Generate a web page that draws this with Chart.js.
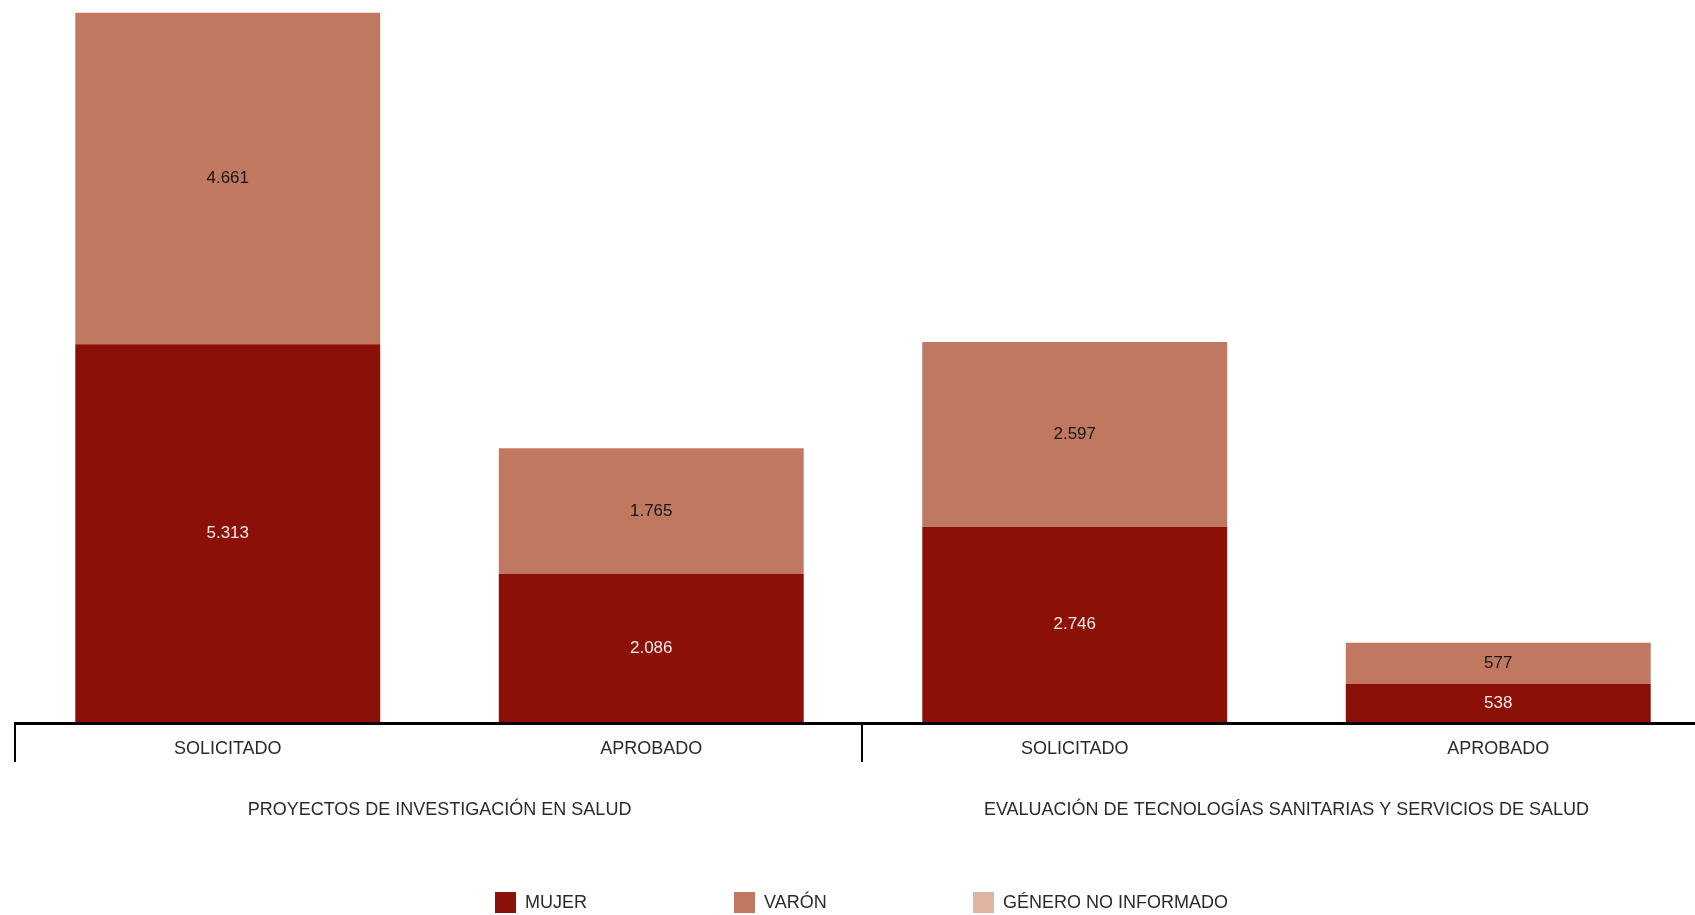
<!DOCTYPE html>
<html><head><meta charset="utf-8">
<script src="https://cdn.jsdelivr.net/npm/chart.js@4"></script>
<style>
html,body{margin:0;padding:0;background:#fff;overflow:hidden;width:1695px;height:915px;}
canvas{display:block;}
</style></head>
<body>
<canvas id="c" width="1712" height="915"></canvas>
<script>
const categories = ['SOLICITADO', 'APROBADO', 'SOLICITADO', 'APROBADO'];
const groups = ['PROYECTOS DE INVESTIGACIÓN EN SALUD', 'EVALUACIÓN DE TECNOLOGÍAS SANITARIAS Y SERVICIOS DE SALUD'];
const groupSizes = [2, 2];
const seriesNames = ['MUJER', 'VARÓN', 'GÉNERO NO INFORMADO'];
const mujer = [5313, 2086, 2746, 538];
const varon = [4661, 1765, 2597, 577];
const noInformado = [0, 0, 0, 0];
const seriesColors = ['#8b1007', '#c07860', '#dfb4a0'];
const labelColors = ['#f6e9e7', '#151515', '#151515'];

const FONT = '"Liberation Sans", Arial, sans-serif';
function fmt(v){ return String(v).replace(/\B(?=(\d{3})+(?!\d))/g, '.'); }

const overlay = {
  id: 'overlay',
  afterDatasetsDraw(chart){
    const ctx = chart.ctx;
    const area = chart.chartArea;
    const xs = chart.scales.x;
    ctx.save();
    // value labels
    ctx.font = '17px ' + FONT;
    ctx.textAlign = 'center';
    ctx.textBaseline = 'middle';
    chart.data.datasets.forEach((ds, di) => {
      const meta = chart.getDatasetMeta(di);
      meta.data.forEach((bar, i) => {
        const v = ds.data[i];
        if (!v) return;
        const yc = (bar.y + bar.base) / 2;
        ctx.fillStyle = labelColors[di];
        ctx.fillText(fmt(v), bar.x, yc);
      });
    });
    // baseline
    const step = xs.getPixelForValue(1) - xs.getPixelForValue(0);
    const left = xs.getPixelForValue(0) - step / 2;
    ctx.strokeStyle = '#000';
    ctx.lineWidth = 3;
    ctx.beginPath();
    ctx.moveTo(left - 1, area.bottom + 1.5);
    ctx.lineTo(area.right + 2, area.bottom + 1.5);
    ctx.stroke();
    // category labels
    ctx.fillStyle = '#2a2a2a';
    ctx.font = '18px ' + FONT;
    categories.forEach((c, i) => {
      ctx.fillText(c, xs.getPixelForValue(i), area.bottom + 27);
    });
    // group separators and labels
    ctx.lineWidth = 2;
    let start = 0;
    const sepX = [];
    groups.forEach((g, gi) => {
      const x0 = xs.getPixelForValue(start) - step / 2;
      const x1 = xs.getPixelForValue(start + groupSizes[gi] - 1) + step / 2;
      sepX.push(x0, x1);
      ctx.fillText(g, (x0 + x1) / 2, area.bottom + 88);
      start += groupSizes[gi];
    });
    [...new Set(sepX.map(v => Math.round(v)))].forEach(x => {
      ctx.beginPath();
      ctx.moveTo(x - 1, area.bottom);
      ctx.lineTo(x - 1, area.bottom + 40);
      ctx.stroke();
    });
    // legend
    ctx.textAlign = 'left';
    const ly = 892, box = 21, legX = 495, legStep = 239;
    seriesNames.forEach((n, i) => {
      const x = legX + i * legStep;
      ctx.fillStyle = seriesColors[i];
      ctx.fillRect(x, ly, box, box);
      ctx.fillStyle = '#2a2a2a';
      ctx.fillText(n, x + 30, ly + box / 2 + 1);
    });
    ctx.restore();
  }
};

new Chart(document.getElementById('c'), {
  type: 'bar',
  data: {
    labels: categories,
    datasets: [
      { label: seriesNames[0], data: mujer, backgroundColor: seriesColors[0] },
      { label: seriesNames[1], data: varon, backgroundColor: seriesColors[1] },
      { label: seriesNames[2], data: noInformado, backgroundColor: seriesColors[2] }
    ]
  },
  options: {
    responsive: false,
    animation: false,
    devicePixelRatio: 1,
    layout: { padding: { left: 16, right: 2, top: 11, bottom: 193 } },
    datasets: { bar: { categoryPercentage: 1, barPercentage: 0.72, borderWidth: 0 } },
    scales: {
      x: { stacked: true, display: false },
      y: { stacked: true, display: false, min: 0, max: 10000 }
    },
    plugins: { legend: { display: false }, tooltip: { enabled: false } }
  },
  plugins: [overlay]
});
</script>
</body></html>
